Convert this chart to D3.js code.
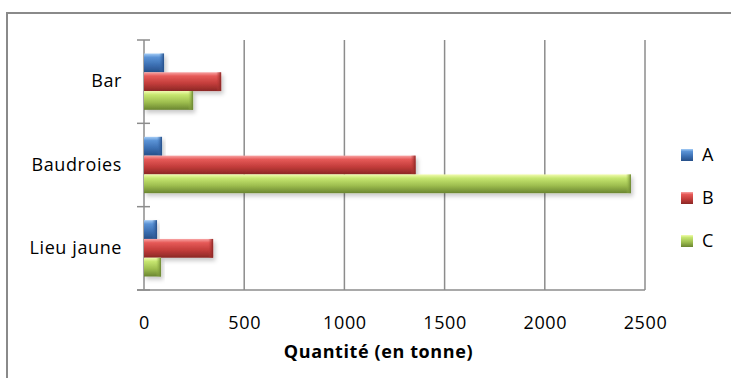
<!DOCTYPE html>
<html>
<head>
<meta charset="utf-8">
<script src="https://cdn.jsdelivr.net/npm/d3@7"></script>
<style>
  body { margin: 0; background: #fff; }
  text { font-family: "Open Sans", sans-serif; fill: #000; letter-spacing: 0.6px; }
</style>
</head>
<body>
<div id="chart"></div>
<script>
// data
var categories = ["Bar", "Baudroies", "Lieu jaune"];
var series = ["A", "B", "C"];
var valuesA = [100, 90, 65];
var valuesB = [385, 1355, 345];
var valuesC = [245, 2430, 85];
var xTicks = [0, 500, 1000, 1500, 2000, 2500];
var xTitle = "Quantité (en tonne)";

var rows = categories.map(function(c, i) {
  return { cat: c, A: valuesA[i], B: valuesB[i], C: valuesC[i] };
});

var W = 731, H = 378;
var plot = { left: 144, right: 645, top: 40, bottom: 290 };

var svg = d3.select("#chart").append("svg")
  .attr("width", W).attr("height", H);

// bevel-like gradients for each series
var shades = {
  A: ["#a4ccf5", "#5b93d6", "#3c70b3", "#264f88"],
  B: ["#f8a4a4", "#e65a58", "#c23c3a", "#8a2725"],
  C: ["#f2fcb0", "#c6e670", "#9dbd4e", "#6a8530"]
};
var defs = svg.append("defs");
series.forEach(function(s) {
  var g = defs.append("linearGradient").attr("id", "grad" + s)
    .attr("x1", 0).attr("y1", 0).attr("x2", 0).attr("y2", 1);
  g.append("stop").attr("offset", "0%").attr("stop-color", shades[s][0]);
  g.append("stop").attr("offset", "20%").attr("stop-color", shades[s][1]);
  g.append("stop").attr("offset", "60%").attr("stop-color", shades[s][2]);
  g.append("stop").attr("offset", "100%").attr("stop-color", shades[s][3]);
  var e = defs.append("linearGradient").attr("id", "end" + s)
    .attr("x1", 0).attr("y1", 0).attr("x2", 1).attr("y2", 0);
  e.append("stop").attr("offset", "0%").attr("stop-color", shades[s][2]).attr("stop-opacity", 0);
  e.append("stop").attr("offset", "100%").attr("stop-color", shades[s][3]);
});
var shadow = defs.append("filter").attr("id", "shadow")
  .attr("x", "-10%").attr("y", "-20%").attr("width", "130%").attr("height", "180%");
shadow.append("feDropShadow").attr("dx", 2).attr("dy", 3)
  .attr("stdDeviation", 2).attr("flood-color", "#000").attr("flood-opacity", 0.22);

// outer frame
svg.append("path")
  .attr("d", "M7," + (H + 5) + "V13H" + (W + 5))
  .attr("fill", "none").attr("stroke", "#8a8a8a").attr("stroke-width", 2);

var x = d3.scaleLinear().domain([0, 2500]).range([plot.left, plot.right]);
var y = d3.scaleBand().domain(categories).range([plot.top, plot.bottom]);
var bw = y.bandwidth();
var y1 = d3.scaleBand().domain(series).range([13.5, bw - 13.5]);

// gridlines
svg.append("g")
  .selectAll("line")
  .data(xTicks.slice(1))
  .enter().append("line")
    .attr("x1", function(d) { return x(d); })
    .attr("x2", function(d) { return x(d); })
    .attr("y1", plot.top).attr("y2", plot.bottom)
    .attr("stroke", "#8c8c8c").attr("stroke-width", 1.5);

// x axis labels
var xAxis = svg.append("g")
  .attr("transform", "translate(0," + plot.bottom + ")")
  .call(d3.axisBottom(x).tickValues(xTicks).tickFormat(d3.format("d")).tickSize(0).tickPadding(26));
xAxis.select(".domain").remove();
xAxis.selectAll("text").style("font-size", "18px").style("font-family", "Open Sans, sans-serif");

svg.append("line")
  .attr("x1", plot.left - 7).attr("x2", plot.right)
  .attr("y1", plot.bottom).attr("y2", plot.bottom)
  .attr("stroke", "#8c8c8c").attr("stroke-width", 1.5);

// category axis
var yAxis = svg.append("g")
  .attr("transform", "translate(" + plot.left + ",0)")
  .call(d3.axisLeft(y).tickSize(0).tickPadding(22));
yAxis.select(".domain").remove();
yAxis.selectAll("text").style("font-size", "18px").style("font-family", "Open Sans, sans-serif");

var bounds = categories.map(function(c) { return y(c); }).concat([plot.bottom]);
svg.append("g").selectAll("line")
  .data(bounds).enter().append("line")
    .attr("x1", plot.left - 7).attr("x2", plot.left + 6)
    .attr("y1", function(d) { return d; }).attr("y2", function(d) { return d; })
    .attr("stroke", "#8c8c8c").attr("stroke-width", 1.5);
svg.append("line")
  .attr("x1", plot.left).attr("x2", plot.left)
  .attr("y1", plot.top).attr("y2", plot.bottom)
  .attr("stroke", "#8c8c8c").attr("stroke-width", 1.5);

// bars
var groups = svg.append("g").selectAll("g")
  .data(rows).enter().append("g")
    .attr("transform", function(d) { return "translate(0," + y(d.cat) + ")"; });

var bars = groups.selectAll("g.bar")
  .data(function(d) { return series.map(function(s) { return { s: s, v: d[s] }; }); })
  .enter().append("g").attr("class", "bar").attr("filter", "url(#shadow)");

bars.append("rect")
  .attr("x", x(0))
  .attr("y", function(d) { return y1(d.s); })
  .attr("width", function(d) { return x(d.v) - x(0); })
  .attr("height", y1.bandwidth())
  .attr("fill", function(d) { return "url(#grad" + d.s + ")"; });

bars.append("rect")
  .attr("x", function(d) { return x(d.v) - 5; })
  .attr("y", function(d) { return y1(d.s); })
  .attr("width", 5)
  .attr("height", y1.bandwidth())
  .attr("fill", function(d) { return "url(#end" + d.s + ")"; });

// axis title
svg.append("text")
  .attr("x", (plot.left + plot.right) / 2 - 16)
  .attr("y", 352)
  .attr("dy", "0.35em")
  .attr("text-anchor", "middle")
  .style("font-size", "18px")
  .style("font-weight", "bold")
  .text(xTitle);

// legend
var legY = d3.scalePoint().domain(series).range([155, 241]);
var leg = svg.append("g").selectAll("g")
  .data(series).enter().append("g")
    .attr("transform", function(d) { return "translate(681," + legY(d) + ")"; });
leg.append("rect")
  .attr("x", 0).attr("y", -6).attr("width", 12).attr("height", 12)
  .attr("fill", function(d) { return "url(#grad" + d + ")"; });
leg.append("text")
  .attr("x", 21).attr("y", 0).attr("dy", "0.35em")
  .style("font-size", "18px")
  .text(function(d) { return d; });
</script>
</body>
</html>
